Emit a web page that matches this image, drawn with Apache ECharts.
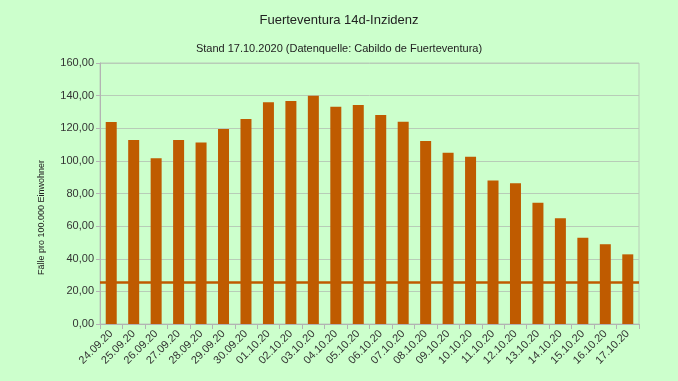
<!DOCTYPE html>
<html><head><meta charset="utf-8">
<script src="https://cdn.jsdelivr.net/npm/echarts@6/dist/echarts.min.js"></script>
<style>html,body{margin:0;padding:0;background:#ccffcc}#c{width:678px;height:381px}</style>
</head><body><div id="c"></div>
<script>
const categories = ['24.09.20','25.09.20','26.09.20','27.09.20','28.09.20','29.09.20','30.09.20','01.10.20','02.10.20','03.10.20','04.10.20','05.10.20','06.10.20','07.10.20','08.10.20','09.10.20','10.10.20','11.10.20','12.10.20','13.10.20','14.10.20','15.10.20','16.10.20','17.10.20'];
const incidence = [123.8,112.8,101.6,112.8,111.2,119.5,125.7,135.9,136.7,140.0,133.2,134.3,128.1,124.0,112.2,105.0,102.6,87.9,86.3,74.4,64.8,52.9,48.9,42.7];
const threshold = 25.9;
const yTicks = {min:0, max:160, interval:20};

const chart = echarts.init(document.getElementById('c'));
const font = 'Liberation Sans, Arial, sans-serif';
chart.setOption({
  backgroundColor:'#ccffcc',
  animation:false,
  title:[
    {text:'Fuerteventura 14d-Inzidenz', left:'center', top:9, textStyle:{fontFamily:font,fontSize:13,fontWeight:'normal',color:'#222'}},
    {text:'Stand 17.10.2020 (Datenquelle: Cabildo de Fuerteventura)', left:'center', top:38, textStyle:{fontFamily:font,fontSize:11,fontWeight:'normal',color:'#222'}}
  ],
  grid:{left:100,right:39,top:63,bottom:57,show:true,borderColor:'#b8ccb8',borderWidth:1,backgroundColor:'transparent'},
  xAxis:{type:'category',data:categories,
    axisLine:{lineStyle:{color:'#b3b3b3'}},
    axisTick:{show:true,length:5,lineStyle:{color:'#b3b3b3'}},
    axisLabel:{rotate:45,fontFamily:font,fontSize:11,color:'#333',margin:8}},
  yAxis:{type:'value',min:yTicks.min,max:yTicks.max,interval:yTicks.interval,
    axisLine:{show:true,lineStyle:{color:'#b3b3b3'}},
    axisTick:{show:true,length:4,lineStyle:{color:'#b3b3b3'}},
    splitLine:{lineStyle:{color:'#b8ccb8'}},
    axisLabel:{fontFamily:font,fontSize:11,color:'#333',margin:6,formatter:v=>v.toFixed(2).replace('.',',')}},
  graphic:[{type:'text',left:37,top:160,rotation:Math.PI/2,
    style:{text:'Fälle pro 100.000 Einwohner',font:'9px '+font,fill:'#222'}}],
  series:[{type:'bar',data:incidence,barWidth:11,itemStyle:{color:'#bf5b00'},
    markLine:{silent:true,symbol:'none',label:{show:false},
      lineStyle:{color:'#bf5b00',width:2.5,type:'solid'},
      data:[{yAxis:threshold}]}}]
});
</script></body></html>
